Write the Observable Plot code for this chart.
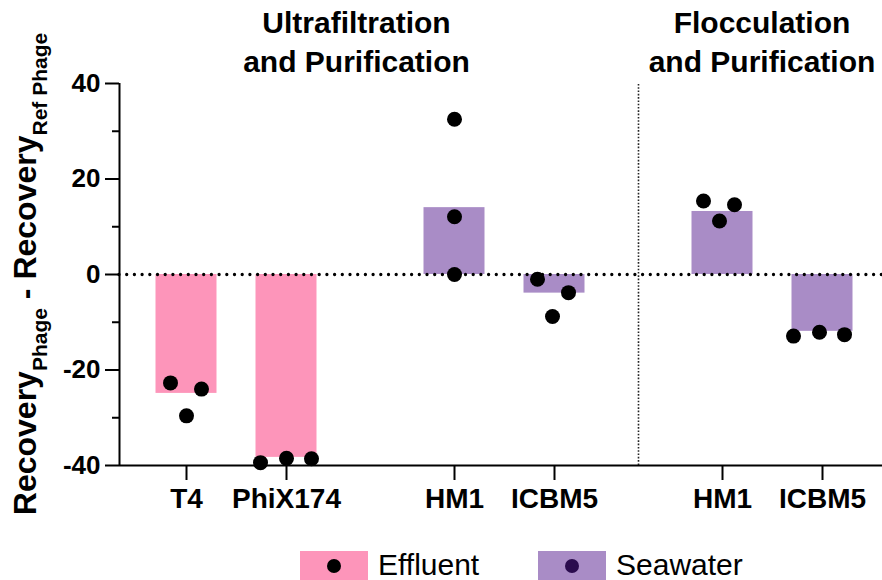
<!DOCTYPE html>
<html><head><meta charset="utf-8">
<script src="https://cdn.jsdelivr.net/npm/d3@7"></script>
<script src="https://cdn.jsdelivr.net/npm/@observablehq/plot@0.6"></script>
<style>
body{margin:0;background:#fff;}
#chart{width:882px;height:580px;}
#chart svg{display:block;}
</style></head><body><div id="chart"></div>
<script>
// ---- data ----
const categories = ["T4", "PhiX174", "HM1", "ICBM5", "HM1", "ICBM5"];
const methods = ["Ultrafiltration", "Ultrafiltration", "Ultrafiltration", "Ultrafiltration", "Flocculation", "Flocculation"];
const sampleTypes = ["Effluent", "Effluent", "Seawater", "Seawater", "Seawater", "Seawater"];
const barValues = [-24.9, -38.3, 14.0, -3.9, 13.2, -11.9];
const replicateValues = [
  [-22.7, -29.6, -24.0],
  [-39.4, -38.5, -38.6],
  [0.0, 12.1, 32.5],
  [-1.0, -8.8, -3.8],
  [15.4, 11.2, 14.6],
  [-12.9, -12.1, -12.6]
];
const yTicks = [-40, -20, 0, 20, 40];
const yMinorTicks = [-30, -10, 10, 30];
const panelTitles = ["Ultrafiltration\nand Purification", "Flocculation\nand Purification"];
const legendLabels = ["Effluent", "Seawater"];

// ---- layout ----
const FONT = '"Liberation Sans", Arial, Helvetica, sans-serif';
const colors = {Effluent: "#FD95BA", Seawater: "#A98CC6"};
const legendDot = {Effluent: "#000000", Seawater: "#2B0C4E"};
const clusterGap = 0.68;
const barHalf = 0.305;
// horizontal scatter of replicate dots (x units)
const jitter = [[-0.16, 0, 0.15], [-0.26, 0, 0.25], [0, 0, 0], [-0.17, -0.02, 0.14], [-0.19, -0.03, 0.12], [-0.29, -0.03, 0.22]];

let cluster = 0;
const xPos = categories.map((c, i) => {
  if (i > 0 && (methods[i] !== methods[i-1] || sampleTypes[i] !== sampleTypes[i-1])) cluster++;
  return i + clusterGap * cluster;
});
const bars = categories.map((c, i) => ({k: xPos[i], v: barValues[i], type: sampleTypes[i]}));
const pts = [];
replicateValues.forEach((arr, i) => arr.forEach((v, j) => pts.push({k: xPos[i] + jitter[i][j], v})));
const firstFloc = methods.indexOf("Flocculation");
const dividerX = (xPos[firstFloc - 1] + xPos[firstFloc]) / 2;
const titleData = [{x: 1.70, t: panelTitles[0]}, {x: 5.755, t: panelTitles[1]}];
const xMin = -0.67, xMax = 6.96;

const plot = Plot.plot({
  width: 882, height: 520,
  marginTop: 83, marginBottom: 55, marginLeft: 119, marginRight: 0,
  x: {domain: [xMin, xMax], axis: null},
  y: {domain: [-40, 40], axis: null},
  color: {domain: ["Effluent", "Seawater"], range: [colors.Effluent, colors.Seawater]},
  style: {fontFamily: FONT, color: "#000", background: "#fff", overflow: "visible"},
  marks: [
    Plot.rect(bars, {x1: d => d.k - barHalf, x2: d => d.k + barHalf, y1: 0, y2: "v", fill: "type"}),
    Plot.ruleY([0], {stroke: "#000", strokeWidth: 3.3, strokeDasharray: "0,7.7", strokeLinecap: "round"}),
    Plot.ruleX([dividerX], {y1: -40, y2: 40, stroke: "#222", strokeWidth: 1.6, strokeDasharray: "1.6,1.7"}),
    Plot.ruleX([xMin], {y1: -40, y2: 40, stroke: "#000", strokeWidth: 2}),
    Plot.ruleY([-40], {stroke: "#000", strokeWidth: 2}),
    Plot.axisY({ticks: yTicks, tickSize: 14, tickPadding: 5, tickFormat: d => String(d), fontSize: 26, fontWeight: "bold", strokeWidth: 2, label: null}),
    Plot.axisY({ticks: yMinorTicks, tickSize: 7, tickFormat: () => "", strokeWidth: 2, label: null}),
    Plot.axisX({ticks: xPos, tickSize: 15, tickPadding: 8, tickFormat: d => categories[xPos.findIndex(p => Math.abs(p - d) < 1e-9)], fontSize: 28, fontWeight: "bold", strokeWidth: 2, label: null}),
    Plot.dot(pts, {x: "k", y: "v", r: 7.5, fill: "#000", stroke: null}),
    Plot.text(titleData, {x: "x", text: "t", frameAnchor: "top", lineAnchor: "top", dy: -79, fontSize: 30, fontWeight: "bold", lineHeight: 1.32, fill: "#000"})
  ]
});

// y-axis label with subscripts
const svg = d3.select(plot);
const lab = svg.append("text")
  .attr("transform", "translate(36,274) rotate(-90)")
  .attr("text-anchor", "middle")
  .attr("font-family", FONT)
  .attr("font-weight", "bold")
  .attr("font-size", 32)
  .attr("fill", "#000");
lab.append("tspan").text("Recovery");
lab.append("tspan").attr("font-size", 21).attr("dy", 11).text("Phage");
lab.append("tspan").attr("dy", -11).text(" - Recovery");
lab.append("tspan").attr("font-size", 21).attr("dy", 11).text("Ref Phage");

const chart = document.getElementById("chart");
chart.appendChild(plot);

// legend below
const leg = d3.select(chart).append("svg").attr("width", 882).attr("height", 60).style("display", "block");
const legX = [300, 538];
legendLabels.forEach((name, i) => {
  leg.append("rect").attr("x", legX[i]).attr("y", 31).attr("width", 68).attr("height", 29).attr("fill", colors[name]);
  leg.append("circle").attr("cx", legX[i] + 34).attr("cy", 46).attr("r", 7).attr("fill", legendDot[name]);
  leg.append("text").attr("x", legX[i] + 78).attr("y", 55).attr("font-family", FONT).attr("font-size", 30).attr("fill", "#000").text(name);
});
</script></body></html>
